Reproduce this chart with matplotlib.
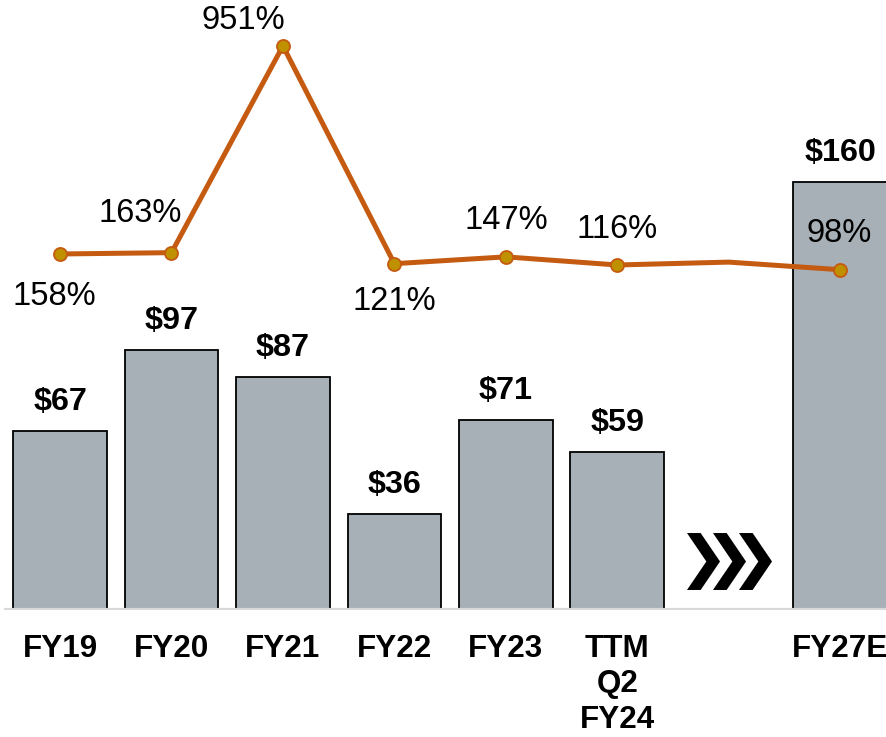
import matplotlib.pyplot as plt
from matplotlib.path import Path
import numpy as np

plt.rcParams['font.family'] = ['Liberation Sans', 'DejaVu Sans']

categories = ["FY19", "FY20", "FY21", "FY22", "FY23", "TTM\nQ2\nFY24", "", "FY27E"]
revenue = [67, 97, 87, 36, 71, 59, np.nan, 160]
revenue_labels = ["$67", "$97", "$87", "$36", "$71", "$59", "", "$160"]
growth = [158, 163, 951, 121, 147, 116, 127, 98]
growth_labels = ["158%", "163%", "951%", "121%", "147%", "116%", "", "98%"]

bar_color = "#A7B0B6"
line_color = "#C55A11"
marker_color = "#BF9000"

fig = plt.figure(figsize=(8.87, 7.37), dpi=100)
ax = fig.add_axes([4.3 / 887, 127 / 737, 882.7 / 887, 610 / 737])
x = np.arange(len(categories))

ax.bar(x, revenue, width=0.84, color=bar_color, edgecolor="black", linewidth=1.3, zorder=2)
ax.set_xlim(-0.5, 7.42)
ax.set_ylim(0, 228)
ax.axhline(0, color="#D9D9D9", lw=3, zorder=3)

for xi, v, lab in zip(x, revenue, revenue_labels):
    if lab:
        ax.annotate(lab, (xi, v), xytext=(0, 29), textcoords="offset pixels",
                    ha="center", va="center", fontsize=23.3, fontweight="bold")

ax.set_xticks(x)
ax.set_xticklabels(categories, fontsize=22.6, fontweight="bold", linespacing=1.25, va="top")
ax.tick_params(axis="x", length=0, pad=17)
ax.set_yticks([])
for s in ax.spines.values():
    s.set_visible(False)

# three chevrons in the gap between actuals and estimate
chevron = Path([(-0.58, 1), (-0.1, 1), (0.58, 0), (-0.1, -1), (-0.58, -1), (0.1, 0), (-0.58, 1)],
               [Path.MOVETO] + [Path.LINETO] * 5 + [Path.CLOSEPOLY])
gap = 6
ax.plot([gap - 0.233, gap, gap + 0.233], [18.3] * 3, ls="none", marker=chevron,
        markersize=41, color="black", markeredgewidth=0)

# growth line on a hidden secondary axis
ax2 = ax.twinx()
ax2.set_ylim(-1199, 1126)
ax2.plot(x, growth, color=line_color, lw=3.6, marker="o", markersize=9.4,
         markerfacecolor=marker_color, markeredgecolor=line_color, markeredgewidth=1.3,
         markevery=[0, 1, 2, 3, 4, 5, 7], zorder=5)
offsets = [(-6, -43), (-31, 39), (-40, 25), (0, -38), (0, 36), (0, 35), (0, 0), (-1, 36)]
for xi, v, lab, (dx, dy) in zip(x, growth, growth_labels, offsets):
    if lab:
        ax2.annotate(lab, (xi, v), xytext=(dx, dy), textcoords="offset pixels",
                     ha="center", va="center", fontsize=23.5)
ax2.set_yticks([])
for s in ax2.spines.values():
    s.set_visible(False)

fig.savefig("out.png", dpi=100)
